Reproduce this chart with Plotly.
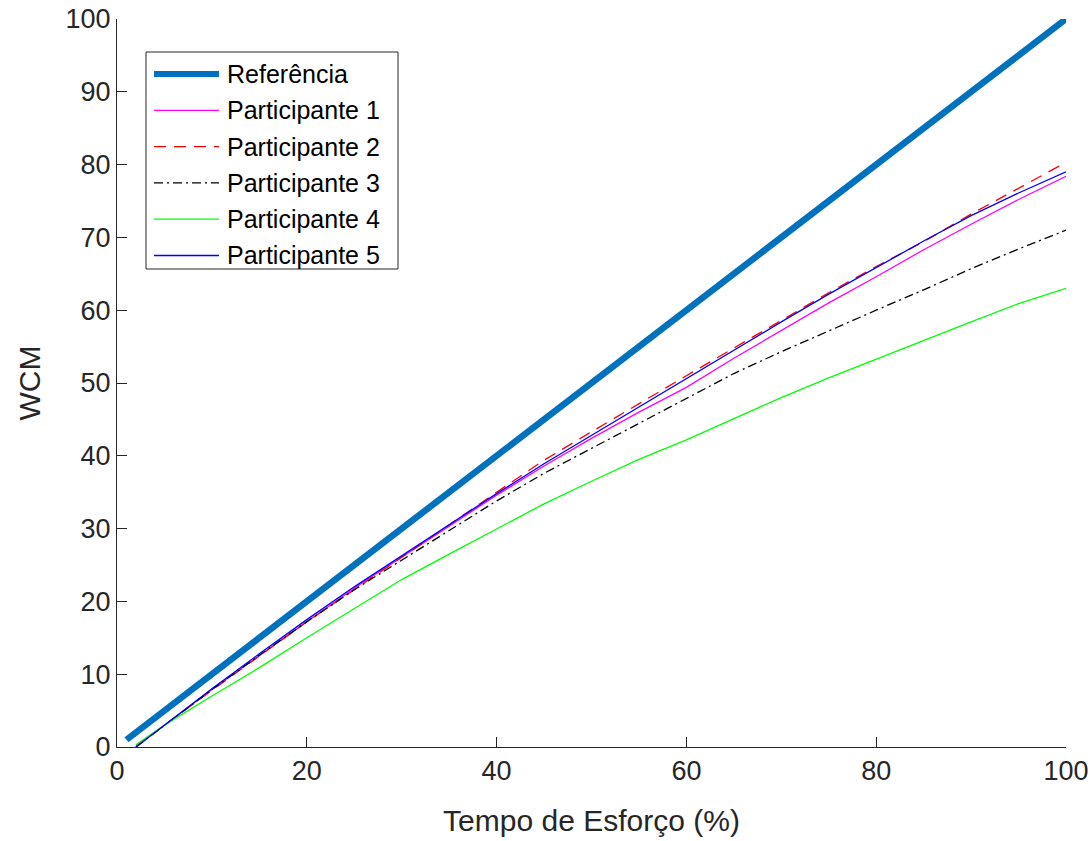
import plotly.graph_objects as go

# Effort time (%) at which each participant curve is sampled
tempo = [2, 5, 10, 15, 20, 25, 30, 35, 40, 45, 50, 55, 60, 65, 70, 75, 80, 85, 90, 95, 100]

# Reference (ideal) line
ref_tempo = [1, 100]
ref_wcm = [1, 100]

# WCM per participant
p1 = [0.2, 3.0, 7.9, 12.6, 17.2, 21.8, 26.1, 30.4, 34.6, 38.6, 42.4, 46.0, 49.4, 53.4, 57.2, 61.0, 64.6, 68.3, 71.8, 75.2, 78.4]
p2 = [0.0, 3.0, 7.8, 12.5, 17.2, 21.6, 26.0, 30.5, 35.0, 39.4, 43.3, 47.2, 51.0, 54.8, 58.6, 62.4, 66.0, 69.4, 73.2, 76.8, 80.3]
p3 = [0.0, 3.0, 7.9, 12.6, 17.2, 21.6, 25.7, 29.8, 33.8, 37.6, 41.0, 44.5, 47.8, 51.3, 54.3, 57.2, 60.0, 62.8, 65.7, 68.4, 71.0]
p4 = [0.3, 3.0, 7.0, 10.9, 15.0, 19.0, 23.0, 26.5, 30.0, 33.4, 36.5, 39.5, 42.2, 45.1, 48.0, 50.7, 53.3, 55.9, 58.4, 60.9, 63.0]
p5 = [0.0, 3.0, 8.0, 12.8, 17.5, 22.0, 26.3, 30.6, 34.8, 38.9, 42.8, 46.8, 50.6, 54.5, 58.4, 62.2, 65.9, 69.5, 73.0, 76.1, 79.0]

names = ["Referência", "Participante 1", "Participante 2", "Participante 3",
         "Participante 4", "Participante 5"]
series = [p1, p2, p3, p4, p5]
colors = ["#0072BD", "#FF00FF", "#FF0000", "#000000", "#00FF00", "#0000FF"]
widths = [6.5, 1.3, 1.3, 1.3, 1.3, 1.3]
dashes = ["solid", "solid", "12px,8px", "9px,4px,2px,4px", "solid", "solid"]

x_ticks = [0, 20, 40, 60, 80, 100]
y_ticks = [0, 10, 20, 30, 40, 50, 60, 70, 80, 90, 100]

AXIS = "#262626"
FONT = "Liberation Sans, Arial, sans-serif"

fig = go.Figure()
fig.add_trace(go.Scatter(x=ref_tempo, y=ref_wcm, mode="lines", name=names[0],
                         line=dict(color=colors[0], width=widths[0]),
                         showlegend=False))
for i, ys in enumerate(series, start=1):
    fig.add_trace(go.Scatter(x=tempo, y=ys, mode="lines", name=names[i],
                             line=dict(color=colors[i], width=widths[i], dash=dashes[i]),
                             showlegend=False))

# Boxed legend drawn in axes-paper coordinates
W, H = 949.0, 728.0
box_l, box_r, box_t, box_b = 29, 281, 695, 478  # px relative to axes origin
shapes = [dict(type="rect", xref="paper", yref="paper",
               x0=box_l / W, x1=box_r / W, y0=box_b / H, y1=box_t / H,
               line=dict(color=AXIS, width=1), fillcolor="white", layer="above")]
annotations = []
row0, step = 673, 36.3
for i, nm in enumerate(names):
    yy = (row0 - i * step) / H
    shapes.append(dict(type="line", xref="paper", yref="paper",
                       x0=37 / W, x1=102 / W, y0=yy, y1=yy, layer="above",
                       line=dict(color=colors[i], width=widths[i] if i else 6,
                                 dash=dashes[i])))
    annotations.append(dict(text=nm, xref="paper", yref="paper", x=108 / W, y=yy,
                            xanchor="left", yanchor="middle", showarrow=False,
                            font=dict(family=FONT, size=25, color="#000000")))

fig.update_layout(
    width=1092, height=841,
    margin=dict(l=117, r=26, t=19, b=94),
    paper_bgcolor="white", plot_bgcolor="white",
    font=dict(family=FONT, color=AXIS),
    shapes=shapes, annotations=annotations,
)
fig.update_xaxes(range=[0, 100], tickvals=x_ticks, ticks="inside", ticklen=10,
                 tickcolor=AXIS, showline=True, linecolor=AXIS, linewidth=1,
                 showgrid=False, zeroline=False, mirror=False,
                 tickfont=dict(size=27, color=AXIS, family=FONT),
                 title=dict(text="Tempo de Esforço (%)", standoff=24,
                            font=dict(size=30, color=AXIS, family=FONT)),
                 automargin=False)
fig.update_yaxes(range=[0, 100], tickvals=y_ticks, ticks="inside", ticklen=10,
                 tickcolor=AXIS, showline=True, linecolor=AXIS, linewidth=1,
                 showgrid=False, zeroline=False, mirror=False,
                 tickfont=dict(size=27, color=AXIS, family=FONT),
                 title=dict(text="WCM", standoff=16,
                            font=dict(size=30, color=AXIS, family=FONT)),
                 automargin=False)

fig.write_html("out.html")
